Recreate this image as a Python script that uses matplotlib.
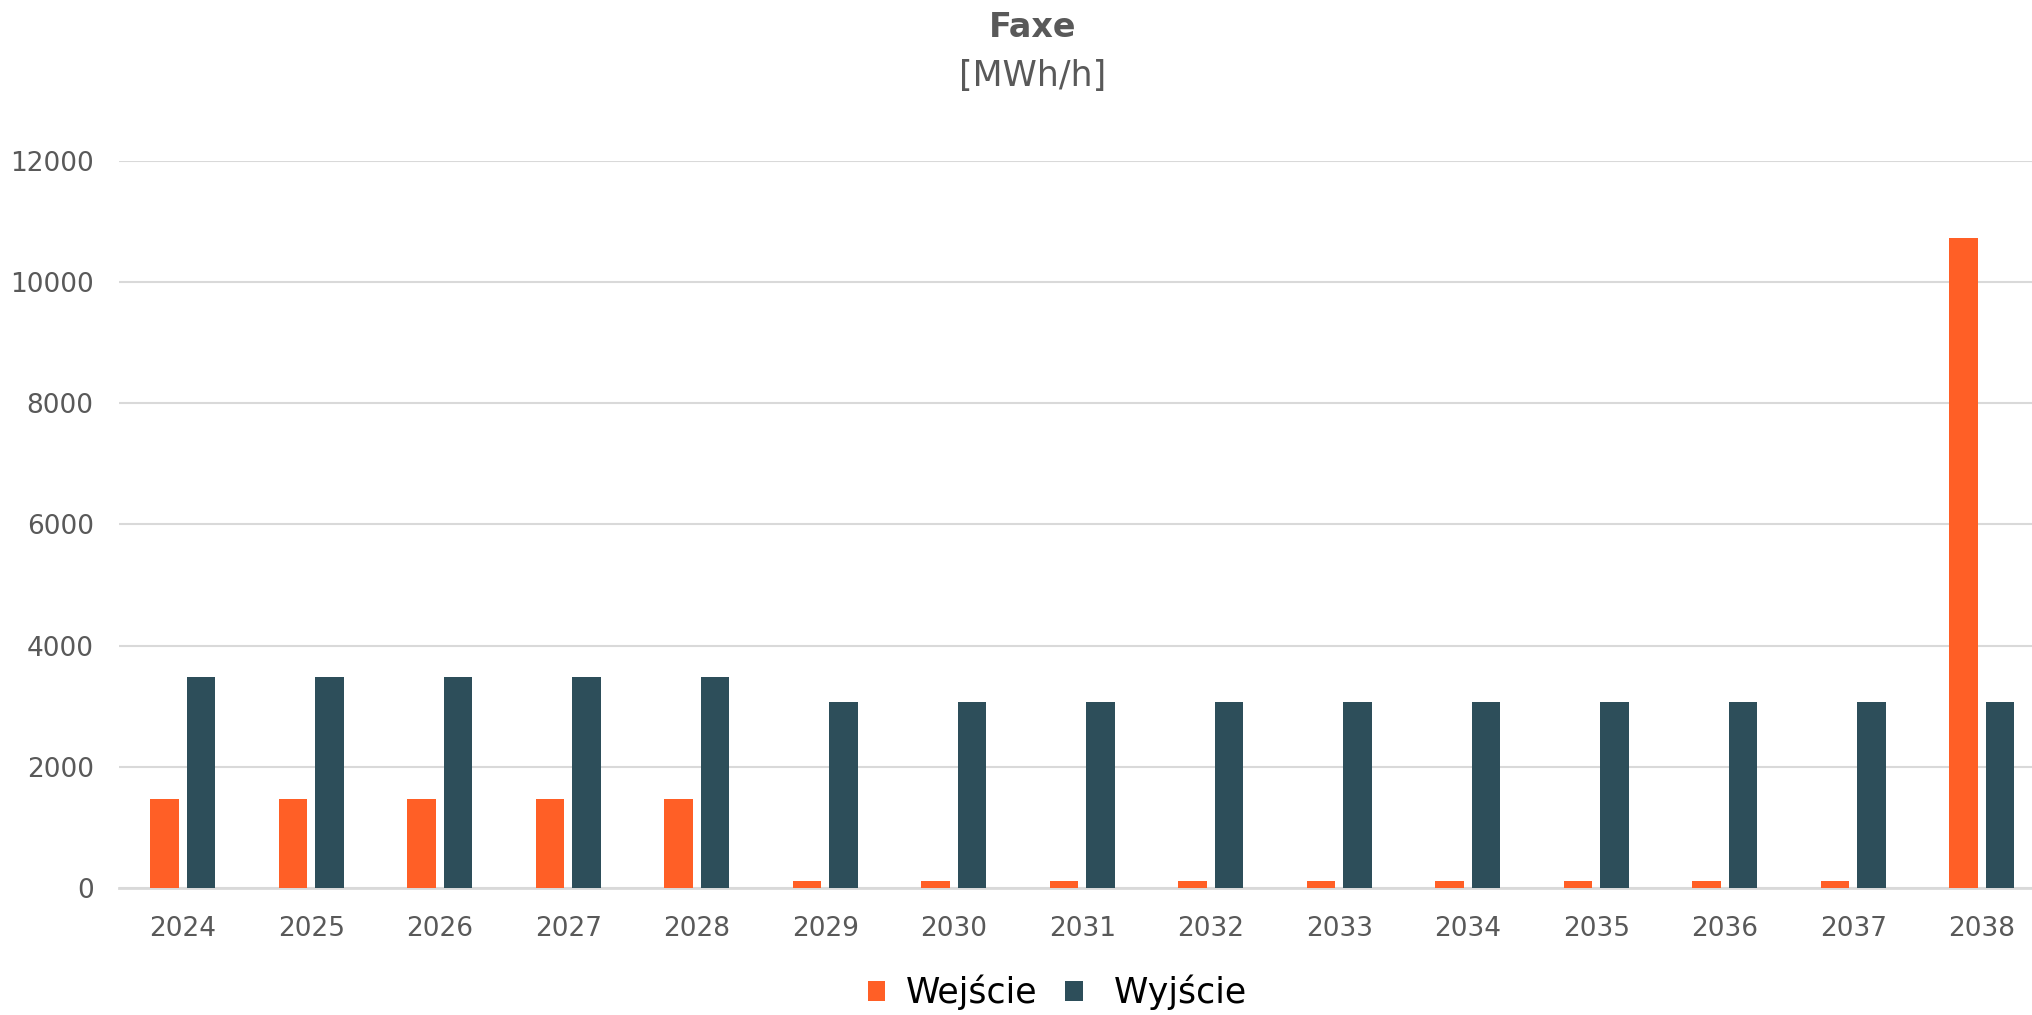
# bar chart of hourly input / output capacity at Faxe for 2024-2038

import matplotlib
matplotlib.use('AGG') # plot without needing X-display setting
import matplotlib.pyplot as plt
import numpy as np

#%% data

years = ['2024','2025','2026','2027','2028','2029','2030','2031',
         '2032','2033','2034','2035','2036','2037','2038']
wejscie = [1475,1475,1475,1475,1475,115,115,115,115,115,115,115,115,115,10720]
wyjscie = [3475,3475,3475,3475,3475,3070,3070,3070,3070,3070,3070,3070,3070,3070,3070]

#%% settings
color_in = '#FF5F26'
color_out = '#2D4E5A'
txtcolor = '#595959'
gridcolor = '#D9D9D9'

x = np.arange(len(years))
bw = 0.222
gap = 0.062

#%% plot
fig = plt.figure(figsize=(20.33,10.15), dpi=100)
ax = fig.add_axes([0.0584, 0.1251, 0.948, 0.7165])

ax.bar(x-(bw+gap)/2, wejscie, width=bw, color=color_in, label='Wejście', zorder=3)
ax.bar(x+(bw+gap)/2, wyjscie, width=bw, color=color_out, label=' Wyjście', zorder=3)

ax.set_xlim(-0.5, len(years)-0.5)
ax.set_ylim(0, 12000)
ax.set_yticks(np.arange(0, 12001, 2000))
ax.set_xticks(x)
ax.set_xticklabels(years)
ax.yaxis.grid(True, color=gridcolor, linewidth=1.5, zorder=0)
ax.set_axisbelow(True)
for s in ['top','right','left']:
    ax.spines[s].set_visible(False)
ax.spines['bottom'].set_color(gridcolor)
ax.spines['bottom'].set_linewidth(2)
ax.tick_params(axis='both', length=0, labelsize=19, colors=txtcolor)
ax.tick_params(axis='x', pad=20)
ax.tick_params(axis='y', pad=18)

# title is centred on the (partly clipped) plot area
fig.text(0.508, 0.973, 'Faxe', ha='center', va='center', fontsize=24,
         fontweight='bold', color=txtcolor)
fig.text(0.508, 0.925, '[MWh/h]', ha='center', va='center', fontsize=25,
         color=txtcolor)

leg = fig.legend(loc='center', bbox_to_anchor=(0.52, 0.022), ncol=2, frameon=False,
                 fontsize=25, handlelength=0.5, handleheight=0.5,
                 handletextpad=0.6, columnspacing=0.8)

fig.savefig('out.png', dpi=100)
